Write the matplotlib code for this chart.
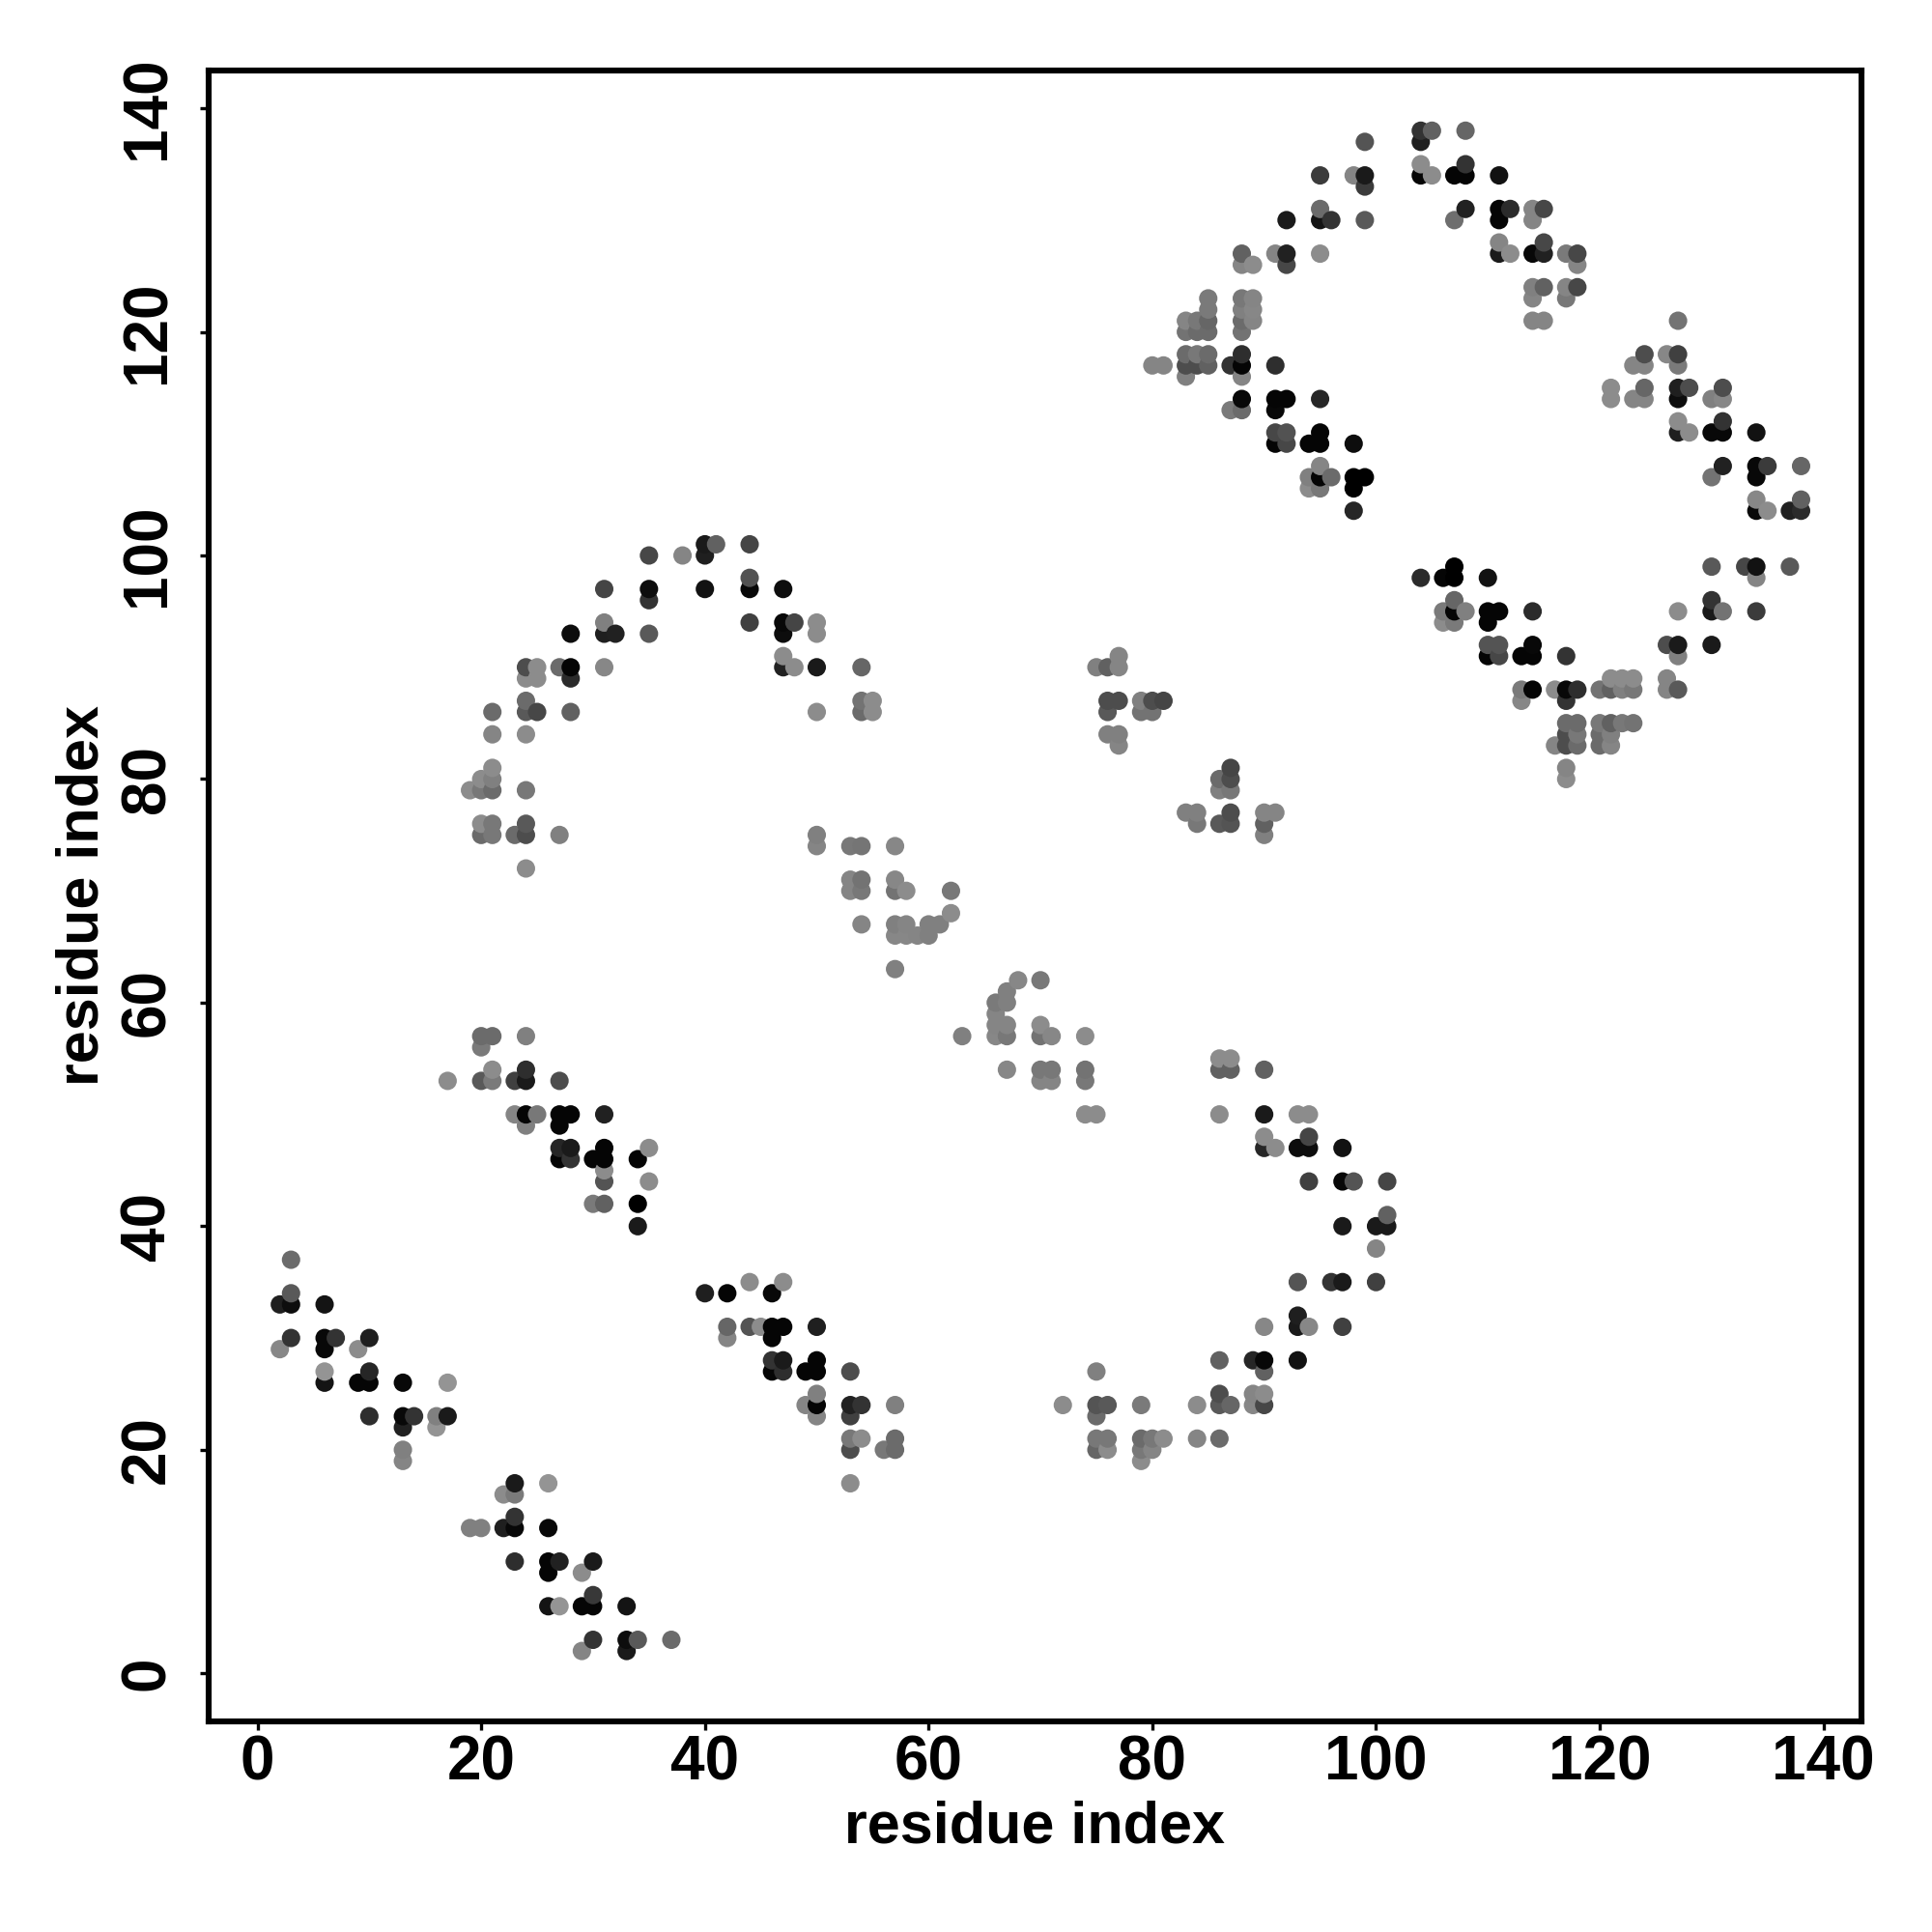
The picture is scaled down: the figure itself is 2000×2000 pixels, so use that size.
import numpy as np
import matplotlib
matplotlib.use("Agg")
import matplotlib.pyplot as plt

plt.rcParams['font.family'] = ['Liberation Sans', 'DejaVu Sans']

# (residue x, residue y, grey level), one list per contact patch
patch_a = [
    (3,37,.42),(3,34,.35),(2,33,.12),(3,33,.05),(6,33,.08),(3,30,.2),(2,29,.53),(6,30,.03),(7,30,.2),
    (6,29,.03),(10,30,.12),(9,29,.55),(6,27,.58),(6,26,.08),(10,27,.15),(9,26,.02),(10,26,.02),
    (13,26,.03),(17,26,.58),(10,23,.18),(13,23,.03),(14,23,.2),(13,22,.13),(16,23,.5),(17,23,.1),
    (16,22,.58),(13,20,.5),(13,19,.52),
]
patch_b = [
    (23,17,.1),(26,17,.58),(22,16,.55),(23,16,.48),(23,14,.2),(19,13,.5),(20,13,.5),(22,13,.12),
    (23,13,.03),(26,13,.03),(23,10,.18),(26,10,.02),(27,10,.13),(30,10,.1),(26,9,.02),(29,9,.55),
    (30,7,.22),(26,6,.08),(27,6,.58),(29,6,.02),(30,6,.02),(33,6,.08),(30,3,.2),(29,2,.52),(33,3,.05),
    (34,3,.35),(37,3,.42),(33,2,.1),
]
patch_c = [
    (40,34,.12),(42,34,.02),(44,35,.55),(46,34,.03),(47,35,.55),(42,31,.4),(42,30,.52),(44,31,.33),
    (45,31,.55),(46,31,.02),(47,31,.02),(46,30,.02),(50,31,.12),(46,28,.2),(47,28,.1),(46,27,.02),
    (47,27,.18),(49,27,.02),(50,28,.02),(50,27,.02),(53,27,.3),(49,24,.52),(50,25,.5),(50,24,.02),
    (50,23,.52),(53,24,.13),(54,24,.2),(53,23,.25),(57,24,.5),(53,21,.47),(54,21,.55),(53,20,.3),
    (56,20,.47),(57,21,.42),(57,20,.42),(53,17,.55),
]
patch_d = [
    (20,57,.42),(21,57,.42),(20,56,.48),(24,57,.5),(21,54,.55),(20,53,.35),(21,53,.48),(17,53,.55),
    (23,53,.25),(24,54,.18),(24,53,.1),(27,53,.3),(23,50,.52),(24,50,.02),(25,50,.47),(24,49,.5),
    (27,50,.02),(28,50,.02),(27,49,.02),(31,50,.13),(27,47,.15),(28,47,.1),(27,46,.02),(28,46,.2),
    (30,46,.02),(31,47,.02),(31,46,.02),(34,46,.02),(35,47,.55),(31,45,.55),(31,44,.33),(35,44,.55),
    (30,42,.48),(31,42,.38),(34,42,.0),(34,40,.1),
]
patch_e = [
    (35,100,.28),(38,100,.52),(40,101,.1),(40,100,.12),(41,101,.38),(44,101,.27),(44,98,.32),(44,97,.03),
    (35,97,.05),(35,96,.2),(31,97,.27),(40,97,.07),(47,97,.05),(44,94,.25),(47,94,.03),(48,94,.27),
    (50,94,.55),(50,93,.55),(31,94,.5),(28,93,.05),(31,93,.12),(32,93,.13),(35,93,.35),(47,93,.05),
    (47,91,.55),(47,90,.13),(48,90,.55),(50,90,.1),(54,90,.4),(24,90,.3),(25,90,.55),(24,89,.55),
    (25,89,.55),(27,90,.42),(28,90,.02),(28,89,.17),(31,90,.53),(24,87,.42),(24,86,.35),(25,86,.28),
    (21,86,.42),(28,86,.38),(50,86,.55),(54,87,.45),(54,86,.42),(55,87,.55),(55,86,.55),(21,84,.52),
    (24,84,.55),(21,81,.55),(20,80,.55),(21,80,.5),(19,79,.55),(20,79,.47),(21,79,.42),(24,79,.47),
    (20,76,.55),(21,76,.47),(20,75,.42),(21,75,.47),(23,75,.42),(24,76,.35),(24,75,.3),(27,75,.5),
    (24,72,.55),
]
patch_f = [
    (50,75,.5),(50,74,.52),(53,74,.47),(54,74,.46),(57,74,.53),(53,71,.52),(54,71,.45),(53,70,.52),
    (54,70,.47),(57,71,.53),(57,70,.45),(58,70,.55),(62,70,.47),(62,68,.55),(54,67,.52),(57,67,.5),
    (58,67,.52),(57,66,.53),(58,66,.53),(59,66,.52),(60,66,.5),(60,67,.5),(61,67,.5),(57,63,.5),
    (68,62,.53),(70,62,.47),(67,61,.5),(67,60,.5),(66,60,.48),(66,59,.52),(66,58,.52),(67,58,.52),
    (66,57,.53),(67,57,.47),(63,57,.5),(70,58,.55),(70,57,.45),(71,57,.53),(74,57,.55),(67,54,.53),
    (70,54,.47),(71,54,.47),(70,53,.52),(71,53,.52),(74,54,.45),(74,53,.47),(74,50,.55),(75,50,.55),
]
patch_g = [
    (77,91,.52),(75,90,.5),(76,90,.38),(77,90,.52),(76,87,.3),(77,87,.3),(76,86,.35),(79,87,.5),
    (79,86,.45),(80,87,.3),(80,86,.45),(81,87,.27),(76,84,.5),(77,84,.5),(77,83,.52),(87,81,.27),
    (87,80,.3),(86,80,.42),(86,79,.5),(87,79,.47),(83,77,.5),(84,77,.5),(84,76,.47),(86,76,.35),
    (87,77,.3),(87,76,.33),(90,77,.52),(91,77,.52),(90,76,.38),(90,75,.5),
]
patch_h = [
    (86,54,.38),(87,54,.38),(86,55,.55),(87,55,.55),(90,54,.38),(86,50,.55),(90,50,.1),(93,50,.55),
    (94,50,.55),(90,48,.55),(90,47,.15),(91,47,.55),(93,47,.05),(94,47,.05),(94,48,.27),(97,47,.07),
    (94,44,.25),(97,44,.03),(98,44,.33),(101,44,.27),(101,41,.38),(97,40,.1),(100,40,.1),(101,40,.1),
    (100,38,.52),(93,35,.33),(96,35,.2),(97,35,.1),(100,35,.25),(93,32,.12),(93,31,.1),(94,31,.53),
    (90,31,.53),(97,31,.25),(86,28,.38),(89,28,.15),(90,28,.03),(93,28,.07),(90,27,.38),(75,27,.5),
    (86,25,.3),(89,25,.52),(90,25,.55),(86,24,.35),(87,24,.4),(89,24,.53),(90,24,.28),(72,24,.55),
    (75,24,.33),(76,24,.35),(79,24,.48),(84,24,.55),(75,23,.42),(75,21,.47),(76,21,.47),(75,20,.4),
    (76,20,.55),(79,21,.42),(80,21,.47),(81,21,.55),(79,20,.47),(80,20,.52),(79,19,.55),(84,21,.52),
    (86,21,.42),
]
patch_i = [
    (99,137,.33),(104,138,.2),(105,138,.38),(104,137,.12),(108,138,.4),(104,135,.55),(105,134,.55),
    (104,134,.02),(107,134,.02),(108,134,.02),(108,135,.2),(111,134,.07),(95,134,.23),(98,134,.52),
    (99,134,.1),(99,133,.23),(95,131,.42),(95,130,.08),(96,130,.2),(92,130,.1),(99,130,.35),(108,131,.13),
    (107,130,.43),(111,131,.02),(112,131,.17),(111,130,.02),(114,131,.52),(115,131,.28),(114,130,.52),
    (111,128,.52),(111,127,.1),(112,127,.55),(114,127,.03),(115,127,.13),(115,128,.28),(117,127,.48),
    (118,127,.28),(118,126,.52),(95,127,.55),(88,127,.38),(88,126,.52),(89,126,.55),(91,127,.52),
    (92,127,.13),(92,126,.28),(114,124,.5),(115,124,.38),(114,123,.52),(117,124,.52),(118,124,.28),
    (117,123,.47),(114,121,.52),(115,121,.52),(85,123,.48),(85,122,.48),(85,121,.4),(85,120,.42),
    (83,121,.52),(84,121,.47),(83,120,.45),(84,120,.42),(88,123,.47),(89,123,.52),(88,122,.5),(89,122,.53),
    (88,121,.42),(89,121,.52),(88,120,.45),(83,118,.42),(84,118,.47),(85,118,.42),(83,117,.3),(84,117,.3),
    (85,117,.38),(83,116,.5),(80,117,.52),(81,117,.52),
]
patch_j = [
    (87,117,.2),(88,118,.18),(88,117,.02),(88,116,.52),(91,117,.18),(88,114,.03),(87,113,.48),(88,113,.42),
    (91,114,.02),(92,114,.02),(91,113,.03),(95,114,.15),(91,111,.28),(92,111,.32),(91,110,.02),(92,110,.28),
    (94,110,.02),(95,111,.02),(95,110,.02),(98,110,.05),(95,108,.52),(94,107,.5),(95,107,.02),(96,107,.42),
    (94,106,.55),(95,106,.47),(98,107,.0),(99,107,.0),(98,106,.0),(98,104,.15),
]
patch_k = [
    (104,98,.17),(106,98,.02),(107,99,.0),(107,98,.0),(110,98,.07),(106,95,.48),(107,96,.4),(107,95,.02),
    (108,95,.5),(106,94,.55),(107,94,.48),(110,95,.02),(111,95,.02),(110,94,.02),(114,95,.17),(110,92,.33),
    (111,92,.33),(110,91,.02),(111,91,.28),(113,91,.02),(114,92,.03),(114,91,.02),(117,91,.2),(113,88,.48),
    (113,87,.53),(114,88,.02),(116,88,.55),(117,88,.03),(118,88,.18),(117,87,.2),(120,88,.45),(121,88,.38),
    (122,88,.5),(123,88,.47),(121,89,.55),(122,89,.55),(123,89,.55),(117,85,.42),(118,85,.42),(117,84,.3),
    (118,84,.47),(117,83,.3),(118,83,.42),(116,83,.52),(120,85,.47),(121,85,.38),(122,85,.47),(123,85,.45),
    (120,84,.42),(121,84,.5),(120,83,.42),(121,83,.52),(117,81,.52),(117,80,.55),
]
patch_l = [
    (127,121,.45),(124,118,.3),(123,117,.52),(124,117,.52),(126,118,.53),(127,118,.25),(127,117,.48),
    (121,115,.55),(121,114,.55),(123,114,.52),(124,115,.4),(124,114,.52),(127,115,.12),(128,115,.3),
    (127,114,.05),(130,114,.5),(131,115,.3),(131,114,.53),(127,112,.55),(127,111,.12),(128,111,.55),
    (130,111,.03),(131,112,.2),(131,111,.03),(134,111,.07),(131,108,.13),(130,107,.45),(134,108,.03),
    (135,108,.23),(134,107,.03),(138,108,.4),(134,105,.53),(135,104,.55),(134,104,.03),(137,104,.13),
    (138,104,.17),(138,105,.38),(130,99,.35),(133,99,.28),(134,99,.07),(134,98,.52),(137,99,.35),
    (127,95,.55),(130,96,.2),(130,95,.1),(131,95,.45),(134,95,.23),(126,92,.3),(127,92,.1),(130,92,.1),
    (127,91,.5),(126,89,.52),(126,88,.52),(127,88,.35),
]

tick_values = [0, 20, 40, 60, 80, 100, 120, 140]
axis_label = "residue index"

contacts = np.array(patch_a + patch_b + patch_c + patch_d + patch_e + patch_f + patch_g
                    + patch_h + patch_i + patch_j + patch_k + patch_l)
# later residues sit on top in the reference
contacts = contacts[np.lexsort((contacts[:, 1], contacts[:, 0]))]

fig = plt.figure(figsize=(10, 10), dpi=200)
ax = fig.add_axes([0.1078, 0.109, 0.8557, 0.8546])

ax.scatter(contacts[:, 0], contacts[:, 1], s=47, c=[str(g) for g in contacts[:, 2]], linewidths=0, zorder=3)

ax.set_xlim(-4.4, 143.4)
ax.set_ylim(-4.3, 143.4)
ax.set_xticks(tick_values)
ax.set_yticks(tick_values)
ax.tick_params(length=3.2, width=1.2, labelsize=23)
ax.tick_params(axis='x', pad=1.5)
ax.tick_params(axis='y', pad=8.5)
for label in ax.get_xticklabels():
    label.set_fontweight('bold')
for label in ax.get_yticklabels():
    label.set_fontweight('bold')
    label.set_rotation(90)
    label.set_va('center')
for spine in ax.spines.values():
    spine.set_linewidth(2.2)

ax.set_xlabel(axis_label, fontsize=22, fontweight='bold', labelpad=3)
ax.set_ylabel(axis_label, fontsize=22, fontweight='bold', labelpad=3)

fig.savefig("out.png", dpi=200, facecolor='white')
